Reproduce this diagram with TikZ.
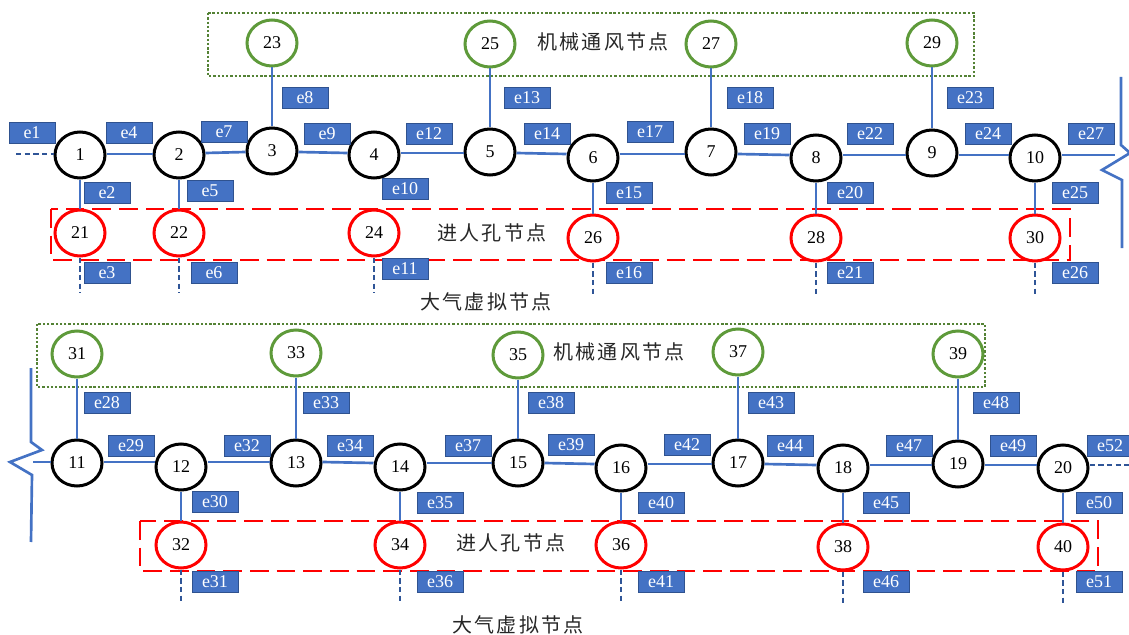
\documentclass[tikz,border=0pt]{standalone}
\usepackage{fontspec}
\setmainfont{Liberation Serif}
\newfontfamily\cjk[LetterSpace=12]{Noto Sans CJK SC}
\usetikzlibrary{shapes.geometric}
\definecolor{lblue}{HTML}{4472C4}
\definecolor{dblue}{HTML}{2F528F}
\definecolor{dashblue}{HTML}{2F5597}
\definecolor{gbox}{HTML}{548235}
\definecolor{gcirc}{HTML}{5E9A3A}
\begin{document}
\begin{tikzpicture}[x=0.75pt,y=-0.75pt,
  bk/.style={ellipse, draw=black, line width=2.25pt, fill=white, minimum width=37.5pt, minimum height=34.5pt, inner sep=0pt, font=\fontsize{13.5}{14}\selectfont},
  gn/.style={bk, draw=gcirc},
  rd/.style={bk, draw=red},
  lbl/.style={rectangle, fill=lblue, draw=dblue, line width=0.6pt, text=white, minimum width=34.5pt, minimum height=15.75pt, inner sep=0pt, font=\fontsize{13.5}{14}\selectfont},
  pipe/.style={draw=lblue, line width=2pt},
  vent/.style={draw=dashblue, line width=1.6pt, dash pattern=on 4pt off 2.5pt},
  gboxs/.style={draw=gbox, line width=1.9pt, dash pattern=on 1.8pt off 1.4pt},
  rboxs/.style={draw=red, line width=2.2pt, dash pattern=on 14pt off 6pt},
  cjkt/.style={font=\cjk\fontsize{15}{16}\selectfont, text=black!85, inner sep=0pt}]
\useasboundingbox (0,0) rectangle (1129,635);
% group boxes
\draw[gboxs] (208,13) rectangle (974,76);
\draw[rboxs] (51,209) rectangle (1070,260);
\draw[gboxs] (37,324) rectangle (985,387);
\draw[rboxs] (140,521) rectangle (1098,571);
% top row nodes
\node[bk] (n1) at (80,155) {1};
\node[bk] (n2) at (179,155) {2};
\node[bk] (n3) at (272,151) {3};
\node[bk] (n4) at (374,155) {4};
\node[bk] (n5) at (490,152) {5};
\node[bk] (n6) at (593,158) {6};
\node[bk] (n7) at (711,152) {7};
\node[bk] (n8) at (816,158) {8};
\node[bk] (n9) at (932,153) {9};
\node[bk] (n10) at (1035,158) {10};
\node[gn] (n23) at (272,43) {23};
\node[gn] (n25) at (490,44) {25};
\node[gn] (n27) at (711,44) {27};
\node[gn] (n29) at (932,43) {29};
\node[rd] (n21) at (80,233) {21};
\node[rd] (n22) at (179,233) {22};
\node[rd] (n24) at (374,233) {24};
\node[rd] (n26) at (593,238) {26};
\node[rd] (n28) at (816,238) {28};
\node[rd] (n30) at (1035,238) {30};
% bottom row nodes
\node[bk] (n11) at (77,463) {11};
\node[bk] (n12) at (181,467) {12};
\node[bk] (n13) at (296,463) {13};
\node[bk] (n14) at (400,467) {14};
\node[bk] (n15) at (518,463) {15};
\node[bk] (n16) at (621,468) {16};
\node[bk] (n17) at (738,463) {17};
\node[bk] (n18) at (843,468) {18};
\node[bk] (n19) at (958,464) {19};
\node[bk] (n20) at (1063,468) {20};
\node[gn] (n31) at (77,354) {31};
\node[gn] (n33) at (296,353) {33};
\node[gn] (n35) at (518,355) {35};
\node[gn] (n37) at (738,352) {37};
\node[gn] (n39) at (958,354) {39};
\node[rd] (n32) at (181,545) {32};
\node[rd] (n34) at (400,545) {34};
\node[rd] (n36) at (621,545) {36};
\node[rd] (n38) at (843,547) {38};
\node[rd] (n40) at (1063,547) {40};
% free ends
\coordinate (a1) at (16,154);
\coordinate (a21) at (80,293);
\coordinate (a22) at (179,293);
\coordinate (a24) at (374,293);
\coordinate (a26) at (593,296);
\coordinate (a28) at (816,297);
\coordinate (a30) at (1035,297);
\coordinate (a32) at (181,603);
\coordinate (a34) at (400,603);
\coordinate (a36) at (621,603);
\coordinate (a38) at (843,605);
\coordinate (a40) at (1063,605);
\coordinate (a20) at (1132,465);
\coordinate (r10) at (1115,155);
\coordinate (l11) at (33,462);
% pipes top (drawn along the pipe level)
\draw[pipe] (n1.east |- 0,154) -- (n2.west |- 0,154);
\draw[pipe] (n2.east |- 0,153) -- (n3.west |- 0,152);
\draw[pipe] (n3.east |- 0,152) -- (n4.west |- 0,153);
\draw[pipe] (n4.east |- 0,153) -- (n5.west |- 0,153);
\draw[pipe] (n5.east |- 0,153) -- (n6.west |- 0,154);
\draw[pipe] (n6.east |- 0,154) -- (n7.west |- 0,154);
\draw[pipe] (n7.east |- 0,154) -- (n8.west |- 0,155);
\draw[pipe] (n8.east |- 0,155) -- (n9.west |- 0,155);
\draw[pipe] (n9.east |- 0,155) -- (n10.west |- 0,155);
\draw[pipe] (n10.east |- r10) -- (r10);
\draw[pipe] (n23) -- (n3); \draw[pipe] (n25) -- (n5); \draw[pipe] (n27) -- (n7); \draw[pipe] (n29) -- (n9);
\draw[pipe] (n1) -- (n21); \draw[pipe] (n2) -- (n22); \draw[pipe] (n6) -- (n26);
\draw[pipe] (n8) -- (n28); \draw[pipe] (n10) -- (n30);
% pipes bottom
\draw[pipe] (l11) -- (n11.west |- l11);
\draw[pipe] (n11.east |- 0,462) -- (n12.west |- 0,462);
\draw[pipe] (n12.east |- 0,462) -- (n13.west |- 0,462);
\draw[pipe] (n13.east |- 0,462) -- (n14.west |- 0,463);
\draw[pipe] (n14.east |- 0,463) -- (n15.west |- 0,463);
\draw[pipe] (n15.east |- 0,463) -- (n16.west |- 0,464);
\draw[pipe] (n16.east |- 0,464) -- (n17.west |- 0,464);
\draw[pipe] (n17.east |- 0,464) -- (n18.west |- 0,465);
\draw[pipe] (n18.east |- 0,465) -- (n19.west |- 0,465);
\draw[pipe] (n19.east |- 0,465) -- (n20.west |- 0,465);
\draw[pipe] (n31) -- (n11); \draw[pipe] (n33) -- (n13); \draw[pipe] (n35) -- (n15);
\draw[pipe] (n37) -- (n17); \draw[pipe] (n39) -- (n19);
\draw[pipe] (n12) -- (n32); \draw[pipe] (n14) -- (n34); \draw[pipe] (n16) -- (n36);
\draw[pipe] (n18) -- (n38); \draw[pipe] (n20) -- (n40);
% break symbols
\draw[pipe, line join=miter] (1121,77) -- (1121,145) -- (1130,153) -- (1102,170) -- (1122,180) -- (1122,248);
\draw[pipe, line join=miter] (31,368) -- (31,442) -- (42,450) -- (10,462) -- (32,475) -- (31,542);
% dashed vents
\draw[vent] (a1) -- (n1.west |- a1);
\draw[vent] (n20.east |- a20) -- (a20);
\draw[vent] (n21) -- (a21); \draw[vent] (n22) -- (a22); \draw[vent] (n24) -- (a24);
\draw[vent] (n26) -- (a26); \draw[vent] (n28) -- (a28); \draw[vent] (n30) -- (a30);
\draw[vent] (n32) -- (a32); \draw[vent] (n34) -- (a34); \draw[vent] (n36) -- (a36);
\draw[vent] (n38) -- (a38); \draw[vent] (n40) -- (a40);
% labels top
\node[lbl] (e1) at (32,133) {e1};
\node[lbl] (e4) at (129,133) {e4};
\node[lbl] (e7) at (224,132) {e7};
\node[lbl] (e8) at (305,98) {e8};
\node[lbl] (e9) at (327,134) {e9};
\node[lbl] (e12) at (429,134) {e12};
\node[lbl] (e13) at (527,98) {e13};
\node[lbl] (e14) at (547,134) {e14};
\node[lbl] (e17) at (650,132) {e17};
\node[lbl] (e18) at (750,98) {e18};
\node[lbl] (e19) at (767,134) {e19};
\node[lbl] (e22) at (870,134) {e22};
\node[lbl] (e23) at (970,98) {e23};
\node[lbl] (e24) at (988,134) {e24};
\node[lbl] (e27) at (1091,134) {e27};
\node[lbl] (e2) at (107,193) {e2};
\node[lbl] (e5) at (210,191) {e5};
\node[lbl] (e3) at (107,273) {e3};
\node[lbl] (e6) at (214,273) {e6};
\node[lbl] (e10) at (405,189) {e10};
\node[lbl] (e11) at (405,269) {e11};
\node[lbl] (e15) at (629,193) {e15};
\node[lbl] (e16) at (629,273) {e16};
\node[lbl] (e20) at (850,193) {e20};
\node[lbl] (e21) at (850,273) {e21};
\node[lbl] (e25) at (1075,193) {e25};
\node[lbl] (e26) at (1075,273) {e26};
% labels bottom
\node[lbl] (e28) at (107,403) {e28};
\node[lbl] (e29) at (131,446) {e29};
\node[lbl] (e32) at (247,446) {e32};
\node[lbl] (e33) at (326,403) {e33};
\node[lbl] (e34) at (350,446) {e34};
\node[lbl] (e37) at (468,446) {e37};
\node[lbl] (e38) at (551,403) {e38};
\node[lbl] (e39) at (571,445) {e39};
\node[lbl] (e42) at (687,445) {e42};
\node[lbl] (e43) at (771,403) {e43};
\node[lbl] (e44) at (790,446) {e44};
\node[lbl] (e47) at (909,446) {e47};
\node[lbl] (e48) at (996,403) {e48};
\node[lbl] (e49) at (1013,446) {e49};
\node[lbl] (e52) at (1110,446) {e52};
\node[lbl] (e30) at (215,502) {e30};
\node[lbl] (e31) at (215,582) {e31};
\node[lbl] (e35) at (440,503) {e35};
\node[lbl] (e36) at (440,582) {e36};
\node[lbl] (e40) at (661,503) {e40};
\node[lbl] (e41) at (661,582) {e41};
\node[lbl] (e45) at (886,503) {e45};
\node[lbl] (e46) at (886,582) {e46};
\node[lbl] (e50) at (1099,503) {e50};
\node[lbl] (e51) at (1099,582) {e51};
% group captions
\node[cjkt] (t1) at (603,42) {机械通风节点};
\node[cjkt] (t2) at (492,233) {进人孔节点};
\node[cjkt] (t3) at (486,302) {大气虚拟节点};
\node[cjkt] (t4) at (619,352) {机械通风节点};
\node[cjkt] (t5) at (511,543) {进人孔节点};
\node[cjkt] (t6) at (518,625) {大气虚拟节点};
\end{tikzpicture}
\end{document}
